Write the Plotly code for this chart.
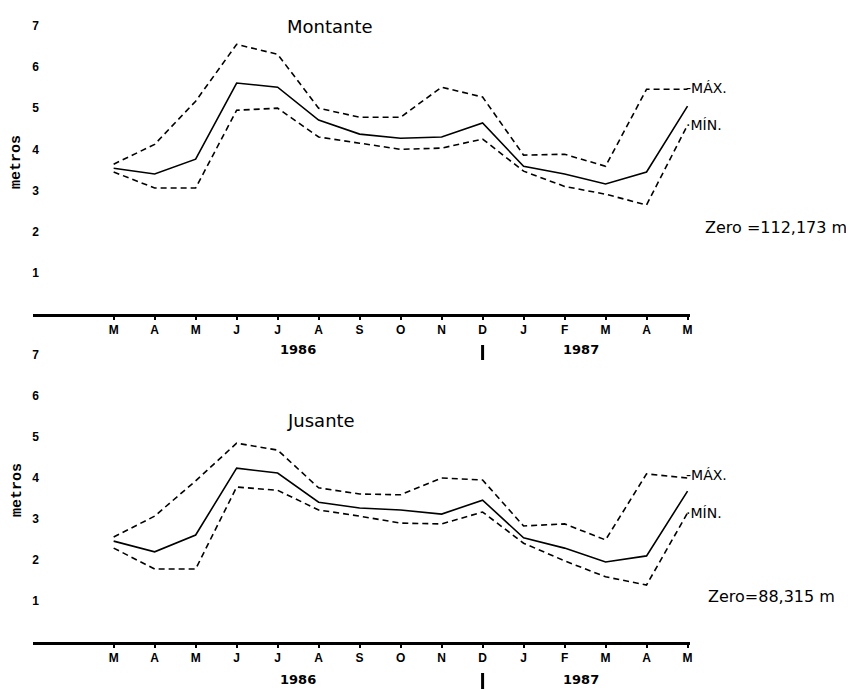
import plotly.graph_objects as go

months = ["M", "A", "M", "J", "J", "A", "S", "O", "N", "D", "J", "F", "M", "A", "M"]
xi = list(range(len(months)))

mont_max = [3.64, 4.12, 5.17, 6.55, 6.31, 5.00, 4.78, 4.78, 5.51, 5.27, 3.86, 3.88, 3.59, 5.46, 5.46]
mont_med = [3.54, 3.40, 3.76, 5.61, 5.51, 4.71, 4.37, 4.27, 4.30, 4.64, 3.59, 3.40, 3.16, 3.45, 5.05]
mont_min = [3.45, 3.06, 3.06, 4.95, 5.00, 4.30, 4.15, 4.00, 4.03, 4.25, 3.47, 3.10, 2.91, 2.65, 4.59]

jus_max = [2.56, 3.07, 3.93, 4.85, 4.68, 3.76, 3.61, 3.59, 4.00, 3.95, 2.83, 2.88, 2.49, 4.10, 4.00]
jus_med = [2.46, 2.20, 2.61, 4.24, 4.12, 3.41, 3.27, 3.22, 3.12, 3.46, 2.54, 2.29, 1.95, 2.10, 3.68]
jus_min = [2.29, 1.78, 1.78, 3.78, 3.70, 3.22, 3.07, 2.90, 2.88, 3.17, 2.41, 1.98, 1.59, 1.39, 3.15]

yticks = [1, 2, 3, 4, 5, 6, 7]

W, H = 854, 690
OFF = 8  # page body margin
def px(v):  # window pixel -> paper
    return (v - OFF) / W
def py(v):
    return 1 - (v - OFF) / H

fig = go.Figure()

dash = "6px,4px"
for (ya, xa, mx, md, mn) in [("y", "x", mont_max, mont_med, mont_min),
                             ("y2", "x2", jus_max, jus_med, jus_min)]:
    fig.add_trace(go.Scatter(x=xi, y=mx, mode="lines", xaxis=xa, yaxis=ya,
                             line=dict(color="black", width=1.6, dash=dash), showlegend=False))
    fig.add_trace(go.Scatter(x=xi, y=md, mode="lines", xaxis=xa, yaxis=ya,
                             line=dict(color="black", width=1.6), showlegend=False))
    fig.add_trace(go.Scatter(x=xi, y=mn, mode="lines", xaxis=xa, yaxis=ya,
                             line=dict(color="black", width=1.6, dash=dash), showlegend=False))

xdom = [px(33), px(692)]
xrange = [-1.97, 14.05]

xcommon = dict(range=xrange, domain=xdom, tickmode="array", tickvals=xi, ticktext=months,
               showline=True, linecolor="black", linewidth=2.5, ticks="outside", ticklen=3,
               tickwidth=2, tickcolor="black", showgrid=False, zeroline=False,
               tickfont=dict(family="Liberation Sans", size=12, color="black", weight="bold"),
               fixedrange=True)
ycommon = dict(range=[0, 7.3], tickmode="array", tickvals=yticks, showline=False, ticks="",
               showgrid=False, zeroline=False, anchor="free", position=px(39),
               tickfont=dict(family="Liberation Sans", size=12, color="black", weight="bold"),
               fixedrange=True)

fig.update_layout(
    width=W, height=H, margin=dict(l=0, r=0, t=0, b=0),
    paper_bgcolor="white", plot_bgcolor="white",
    xaxis=dict(anchor="y", **xcommon),
    yaxis=dict(domain=[py(314), py(13.5)], **ycommon),
    xaxis2=dict(anchor="y2", **xcommon),
    yaxis2=dict(domain=[py(642), py(342.7)], **ycommon),
)

ann = []
def add(text, x, y, size=12, bold=False, family="DejaVu Sans", xanchor="center", angle=0, xref="paper"):
    ann.append(dict(text=("<b>%s</b>" % text) if bold else text, x=x, y=y, xref=xref, yref="paper",
                    showarrow=False, xanchor=xanchor, yanchor="middle", textangle=angle,
                    font=dict(family=family, size=size, color="black")))

# titles
add("Montante", px(331), py(27), size=18)
add("Jusante", px(322), py(421), size=18)
# axis titles
add("metros", px(17), py(162), size=15, bold=True, family="Liberation Mono", angle=-90)
add("metros", px(17), py(490), size=15, bold=True, family="Liberation Mono", angle=-90)
# series labels
add("-MÁX.", px(686), py(88), size=14, xanchor="left")
add("·MÍN.", px(686), py(125), size=14, xanchor="left")
add("-MÁX.", px(686), py(475), size=14, xanchor="left")
add("·MÍN.", px(686), py(513), size=14, xanchor="left")
# zero references
add("Zero =112,173 m", px(852), py(228), size=16, xanchor="right")
add("Zero=88,315 m", px(840), py(596), size=16, xanchor="right")
# years
for yy in (349, 679):
    add("1986", 4.5, py(yy), size=13, bold=True, xref="x")
    add("1987", 11.4, py(yy), size=13, bold=True, xref="x")

fig.update_layout(annotations=ann)

shapes = []
for (y0, y1) in ((345, 360), (673, 689)):
    shapes.append(dict(type="line", xref="x", yref="paper", x0=9, x1=9, y0=py(y0), y1=py(y1),
                       line=dict(color="black", width=3)))
fig.update_layout(shapes=shapes)

fig.write_html("out.html")
